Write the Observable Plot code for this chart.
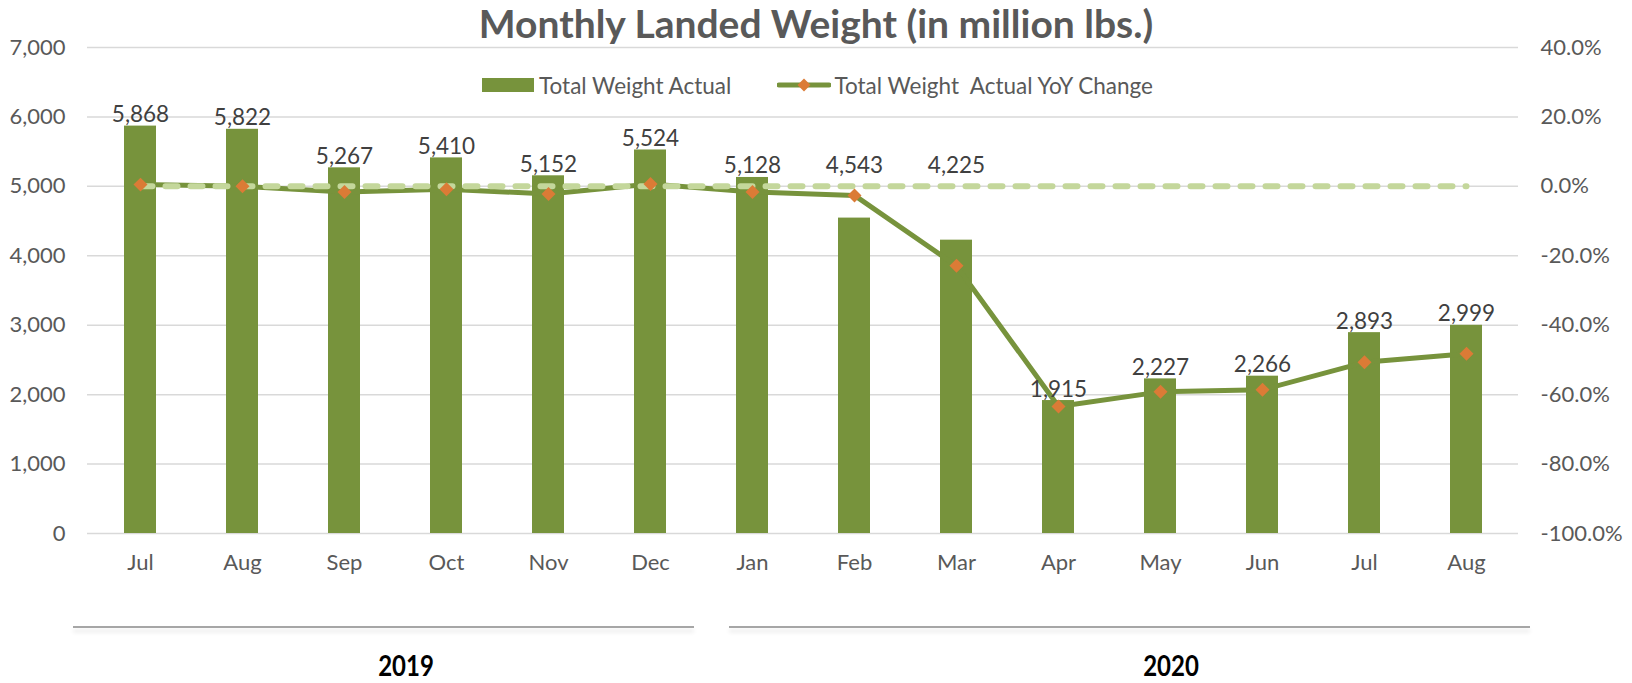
<!DOCTYPE html>
<html>
<head>
<meta charset="utf-8">
<script src="https://cdn.jsdelivr.net/npm/d3@7"></script>
<script src="https://cdn.jsdelivr.net/npm/@observablehq/plot@0.6"></script>
<style>
  body { margin: 0; background: #fff; }
  #wrap { position: relative; width: 1632px; height: 683px; font-family: Lato, "Open Sans", sans-serif; overflow: hidden; }
  #title { position: absolute; left: 0; width: 1632px; top: 0px; text-align: center; font-weight: bold; font-size: 39px; color: #595959; line-height: 46px; }
  #legend { position: absolute; top: 72px; left: 482px; height: 26px; display: flex; align-items: center; font-size: 22.5px; color: #595959; white-space: pre; }
  .yearline { position: absolute; height: 2px; background: #a6a6a6; box-shadow: 0 4px 4px rgba(0,0,0,0.12); }
  .year { position: absolute; font-weight: bold; font-size: 24px; color: #000; transform: translateX(-50%) scaleY(1.15); line-height: 30px; }
  #chart { position: absolute; left: 0; top: 0; }
</style>
</head>
<body>
<div id="wrap">
  <div id="chart"></div>
  <div id="title">Monthly Landed Weight (in million lbs.)</div>
  <div id="legend">
    <svg width="52" height="14"><rect x="0" y="0" width="52" height="14" fill="#77933c"/></svg><span style="margin-left:5px">Total Weight Actual</span><svg style="margin-left:46px" width="54" height="16"><line x1="2" y1="8" x2="52" y2="8" stroke="#77933c" stroke-width="5" stroke-linecap="round"/><path d="M27,1.5L33.5,8L27,14.5L20.5,8Z" fill="#db7b36"/></svg><span style="margin-left:3px">Total Weight  Actual YoY Change</span>
  </div>
  <div class="yearline" style="left:73px; width:621px; top:626px;"></div>
  <div class="yearline" style="left:729px; width:801px; top:626px;"></div>
  <div class="year" style="left:406px; top:651px;">2019</div>
  <div class="year" style="left:1171px; top:651px;">2020</div>
</div>
<script>
// ---- data ----
const months = ["Jul", "Aug", "Sep", "Oct", "Nov", "Dec", "Jan", "Feb", "Mar", "Apr", "May", "Jun", "Jul", "Aug"];
const years = [2019, 2019, 2019, 2019, 2019, 2019, 2020, 2020, 2020, 2020, 2020, 2020, 2020, 2020];
const totalWeight = [5868, 5822, 5267, 5410, 5152, 5524, 5128, 4543, 4225, 1915, 2227, 2266, 2893, 2999];
const yoyChange = [0.5, 0.0, -1.6, -0.8, -2.2, 0.7, -1.6, -2.6, -22.9, -63.4, -59.2, -58.6, -50.7, -48.2];
const leftTicks = [0, 1000, 2000, 3000, 4000, 5000, 6000, 7000];
const rightTicks = [-100, -80, -60, -40, -20, 0, 20, 40];

// right axis (%) mapped onto the left axis scale: -100% -> 0, 40% -> 7000
const pctToY = p => 5000 + p * 50;

const rows = months.map((m, i) => ({
  i, month: m, year: years[i], weight: totalWeight[i], yoy: yoyChange[i]
}));

// Feb & Mar 2020 labels were lifted in the original to clear the line
const labelY = d => (d.year === 2020 && (d.month === "Feb" || d.month === "Mar")) ? totalWeight[6] : d.weight;

const olive = "#77933c";
const fs = 22;
const chart = Plot.plot({
  width: 1632,
  height: 683,
  marginLeft: 87,
  marginRight: 114,
  marginTop: 47,
  marginBottom: 150,
  style: { fontFamily: "Lato, 'Open Sans', sans-serif", fontSize: fs + "px", color: "#595959", background: "transparent" },
  x: { type: "band", domain: d3.range(months.length), paddingInner: 0.69, paddingOuter: 0.345, axis: null, label: null },
  y: { domain: [0, 7000], axis: null, label: null },
  marks: [
    Plot.ruleY(leftTicks, { stroke: "#d9d9d9", strokeWidth: 1.5 }),
    Plot.axisY(leftTicks, { anchor: "left", label: null, tickSize: 0, tickPadding: 22, tickFormat: d3.format(","), fontSize: fs, fill: "#595959" }),
    Plot.axisY(rightTicks.map(pctToY), { anchor: "right", label: null, tickSize: 0, tickPadding: 22, textAnchor: "start",
      tickFormat: v => ((v - 5000) / 50).toFixed(1) + "%", fontSize: fs, fill: "#595959" }),
    Plot.axisX(d3.range(months.length), { anchor: "bottom", label: null, tickSize: 0, tickPadding: 21, tickFormat: i => months[i], fontSize: fs, fill: "#595959" }),
    Plot.barY(rows, { x: "i", y: "weight", fill: olive }),
    Plot.line(rows, { x: "i", y: d => pctToY(d.yoy), stroke: olive, strokeWidth: 5, strokeLinejoin: "round", strokeLinecap: "round" }),
    Plot.line(rows, { x: "i", y: () => pctToY(0), stroke: "#c4d79b", strokeWidth: 6, strokeDasharray: "12,13", strokeLinecap: "round" }),
    Plot.dot(rows, { x: "i", y: d => pctToY(d.yoy), symbol: "diamond2", r: 6.3, fill: "#db7b36", stroke: "none" }),
    Plot.text(rows, { x: "i", y: labelY, text: d => d3.format(",")(d.weight), lineAnchor: "bottom", dy: -4, fontSize: 22.5, fill: "#404040" })
  ]
});
document.getElementById("chart").appendChild(chart);
</script>
</body>
</html>
